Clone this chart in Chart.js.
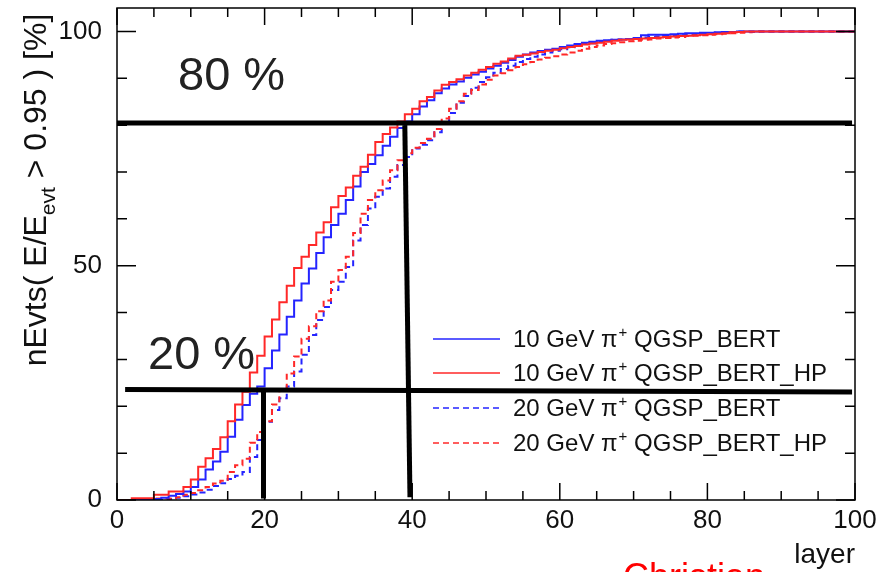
<!DOCTYPE html>
<html>
<head>
<meta charset="utf-8">
<script src="https://cdn.jsdelivr.net/npm/chart.js@4.4.0/dist/chart.umd.min.js"></script>
<style>
  html, body { margin: 0; padding: 0; background: #fff; }
  #wrap { width: 889px; height: 572px; }
</style>
</head>
<body>
<div id="wrap"><canvas id="chart" width="889" height="572"></canvas></div>
<script>
// Cumulative fraction of events (in %) per layer, one value per layer bin 0..99
const blue10 = [0,0,0,0,0,0.2,0.2,0.5,0.9,1.3,
  1.8,2.8,4.4,6.5,8.2,10.3,13.5,17.1,20.3,22.7,
  24.2,28.1,31.9,35.3,39.1,42.6,46.2,49.4,52.7,56.1,
  58.7,61.1,64.0,66.9,70.0,71.7,73.6,75.6,77.5,79.4,
  80.8,82.3,84.0,85.3,86.8,87.8,88.7,89.3,90.1,90.8,
  91.4,92.1,92.7,93.3,93.9,94.6,95.1,95.5,95.8,96.1,
  96.3,96.7,97.0,97.3,97.6,97.8,98.0,98.1,98.2,98.3,
  98.4,98.6,99.2,99.3,99.3,99.3,99.4,99.5,99.6,99.6,
  99.7,99.7,99.8,99.9,99.9,100,100,100,100,100,
  100,100,100,100,100,100,100,100,100,100];
const red10 = [0,0,0,0.4,0.4,0.4,1.1,1.1,1.8,1.8,
  2.8,4.4,7.1,8.9,10.9,13.4,16.8,20.4,23.1,27.2,
  30.8,34.9,38.5,42.2,45.7,49.5,51.9,54.4,57.1,59.3,
  62.5,64.9,66.7,69.2,71.1,73.7,76.4,78.1,79.5,80.8,
  82.3,83.5,85.1,86.0,87.4,88.6,89.2,89.8,90.6,91.2,
  91.8,92.4,93.1,93.6,94.2,94.8,95.0,95.3,95.6,95.9,
  96.1,96.4,96.7,96.9,97.2,97.4,97.6,97.8,98.0,98.2,
  98.3,98.4,98.5,98.6,98.7,98.8,98.9,99.0,99.1,99.2,
  99.3,99.4,99.5,99.6,99.8,99.9,100,100,100,100,
  100,100,100,100,100,100,100,100,100,100];
const blue20 = [0,0,0,0,0,0,0,0,0.2,0.5,
  0.8,1.2,1.6,2.2,3.0,3.6,4.5,5.2,6.0,9.2,
  12.8,16.7,19.2,21.7,24.2,27.4,31.0,35.2,38.4,41.2,
  44.8,46.6,49.7,55.4,58.7,62.2,64.7,66.5,69.0,71.5,
  73.2,75.0,75.8,76.8,78.5,80.5,82.6,84.8,86.2,88.0,
  89.2,90.2,91.2,92.0,92.7,93.5,94.1,94.6,95.1,95.5,
  95.9,96.2,96.6,97.0,97.3,97.5,97.8,98.0,98.2,98.3,
  98.4,98.6,98.7,98.8,98.9,99.0,99.1,99.2,99.3,99.4,
  99.5,99.6,99.7,99.8,99.9,100,100,100,100,100,
  100,100,100,100,100,100,100,100,100,100];
const red20 = [0,0,0,0,0,0,0.3,0.3,0.3,0.6,
  1.1,1.5,2.1,2.8,3.5,4.1,6.0,7.4,8.8,12.2,
  14.5,16.8,20.4,23.5,27.0,30.6,34.4,37.1,40.3,42.6,
  46.6,49.1,51.9,57.0,61.1,64.0,66.1,68.2,70.4,72.5,
  74.0,75.2,76.2,77.1,79.2,81.4,83.5,85.1,86.7,87.5,
  88.7,89.7,90.6,91.1,91.7,92.4,93.0,93.5,94.0,94.4,
  94.7,95.1,95.5,95.9,96.3,96.7,97.0,97.3,97.5,97.7,
  97.9,98.0,98.2,98.3,98.5,98.6,98.7,98.8,99.0,99.1,
  99.2,99.3,99.4,99.5,99.6,99.7,99.8,99.9,100,100,
  100,100,100,100,100,100,100,100,100,100];

const seriesNames = [
  ['10 GeV \u03c0', '+', ' QGSP_BERT'],
  ['10 GeV \u03c0', '+', ' QGSP_BERT_HP'],
  ['20 GeV \u03c0', '+', ' QGSP_BERT'],
  ['20 GeV \u03c0', '+', ' QGSP_BERT_HP']
];

// hand-drawn marker lines (layer, percent)
const line80 = [[0, 80.45], [99.6, 80.45]];
const line20 = [[1.1, 23.6], [99.6, 23.05]];
const vert20 = [[19.85, 23.6], [19.85, 0.3]];
const vert40 = [[39.0, 80.0], [39.7, 0.6]];

const xTicks = [0, 20, 40, 60, 80, 100];
const yTicks = [0, 50, 100];

const FONT = '"Liberation Sans", Arial, Helvetica, sans-serif';
const BLUE = '#2424ff';
const RED = '#ff2828';

function histPoints(vals) {
  const pts = vals.map((v, i) => ({ x: i, y: v }));
  pts.push({ x: vals.length, y: vals[vals.length - 1] });
  return pts;
}
function segPoints(seg) {
  return seg.map(p => ({ x: p[0], y: p[1] }));
}

function histSet(vals, color, dashed) {
  return {
    data: histPoints(vals),
    borderColor: color,
    borderWidth: 2,
    borderDash: dashed ? [6, 4] : [],
    stepped: 'after',
    pointRadius: 0,
    fill: false,
    order: 2
  };
}
function blackSet(seg) {
  return {
    data: segPoints(seg),
    borderColor: '#000',
    borderWidth: 5,
    pointRadius: 0,
    fill: false,
    order: 0
  };
}

const datasets = [
  blackSet(line80), blackSet(line20), blackSet(vert20), blackSet(vert40),
  histSet(red10, RED, false),
  histSet(blue10, BLUE, false),
  histSet(red20, RED, true),
  histSet(blue20, BLUE, true)
];

// frame, inner ticks, titles, legend, labels
const rootStyle = {
  id: 'rootStyle',
  afterDraw(chart) {
    const ctx = chart.ctx;
    const a = chart.chartArea;
    const xs = chart.scales.x, ys = chart.scales.y;
    ctx.save();
    ctx.strokeStyle = '#000';
    ctx.lineWidth = 1.5;
    ctx.strokeRect(a.left, a.top, a.right - a.left, a.bottom - a.top);

    ctx.beginPath();
    for (let v = 0; v <= 100; v += 5) {
      const px = xs.getPixelForValue(v);
      const len = v % 20 === 0 ? 17 : 9;
      ctx.moveTo(px, a.bottom); ctx.lineTo(px, a.bottom - len);
      ctx.moveTo(px, a.top); ctx.lineTo(px, a.top + len);
    }
    for (let v = 0; v <= 100; v += 10) {
      const py = ys.getPixelForValue(v);
      const len = v % 50 === 0 ? 19 : 10;
      ctx.moveTo(a.left, py); ctx.lineTo(a.left + len, py);
      ctx.moveTo(a.right, py); ctx.lineTo(a.right - len, py);
    }
    ctx.stroke();

    // x title
    ctx.fillStyle = '#111';
    ctx.font = '28px ' + FONT;
    ctx.textAlign = 'right';
    ctx.textBaseline = 'alphabetic';
    ctx.fillText('layer', a.right, 563);

    // y title (rotated, with subscript)
    const parts = [
      ['nEvts( E/E', 32, 0],
      ['evt', 21, 9],
      [' > 0.95 ) [%]', 32, 0]
    ];
    let total = 0;
    parts.forEach(p => { ctx.font = p[1] + 'px ' + FONT; total += ctx.measureText(p[0]).width; });
    ctx.save();
    ctx.translate(46, 190);
    ctx.rotate(-Math.PI / 2);
    ctx.textAlign = 'left';
    let cx = -total / 2;
    parts.forEach(p => {
      ctx.font = p[1] + 'px ' + FONT;
      ctx.fillText(p[0], cx, p[2]);
      cx += ctx.measureText(p[0]).width;
    });
    ctx.restore();

    // big percent labels
    ctx.fillStyle = '#222';
    ctx.font = '47px ' + FONT;
    ctx.textAlign = 'left';
    ctx.fillText('80 %', 178, 90);
    ctx.fillText('20 %', 148, 369);

    // legend
    const styles = [[BLUE, []], [RED, []], [BLUE, [6, 4]], [RED, [6, 4]]];
    const rows = [339, 373, 408, 443];
    rows.forEach((ry, i) => {
      ctx.strokeStyle = styles[i][0];
      ctx.setLineDash(styles[i][1]);
      ctx.lineWidth = 1.5;
      ctx.beginPath();
      ctx.moveTo(433, ry); ctx.lineTo(500, ry);
      ctx.stroke();
      ctx.setLineDash([]);
      ctx.fillStyle = '#111';
      let tx = 513;
      const n = seriesNames[i];
      ctx.font = '24px ' + FONT;
      ctx.fillText(n[0], tx, ry + 8);
      tx += ctx.measureText(n[0]).width + 1;
      ctx.font = '15px ' + FONT;
      ctx.fillText(n[1], tx, ry - 2);
      tx += ctx.measureText(n[1]).width;
      ctx.font = '24px ' + FONT;
      ctx.fillText(n[2], tx, ry + 8);
    });

    // author stamp, cut by the page edge
    ctx.fillStyle = '#ff0000';
    ctx.font = '36px ' + FONT;
    ctx.fillText('Christian', 623, 589);
    ctx.restore();
  }
};

new Chart(document.getElementById('chart').getContext('2d'), {
  type: 'line',
  data: { datasets: datasets },
  options: {
    responsive: false,
    animation: false,
    layout: { padding: { top: 8, right: 34, left: 0, bottom: 0 } },
    plugins: { legend: { display: false }, tooltip: { enabled: false } },
    scales: {
      x: {
        type: 'linear', min: 0, max: 100,
        grid: { display: false },
        border: { display: false },
        afterFit(s) { s.height = 72; s.paddingLeft = 0; s.paddingRight = 0; },
        afterBuildTicks(s) { s.ticks = xTicks.map(v => ({ value: v })); },
        ticks: {
          autoSkip: false, maxRotation: 0, padding: -3,
          color: '#111', font: { size: 26, family: FONT }
        }
      },
      y: {
        type: 'linear', min: 0, max: 105,
        grid: { display: false },
        border: { display: false },
        afterFit(s) { s.width = 117; s.paddingTop = 0; s.paddingBottom = 0; },
        afterBuildTicks(s) { s.ticks = yTicks.map(v => ({ value: v })); },
        ticks: {
          padding: 7,
          color: '#111', font: { size: 26, family: FONT }
        }
      }
    }
  },
  plugins: [rootStyle]
});
</script>
</body>
</html>
